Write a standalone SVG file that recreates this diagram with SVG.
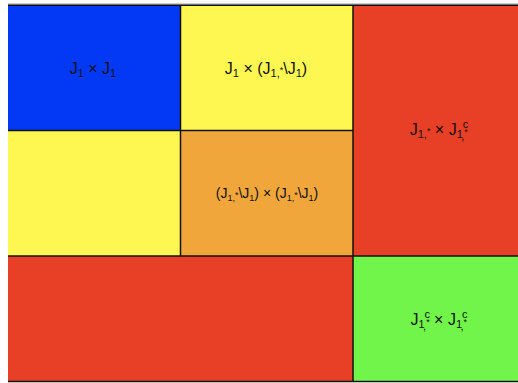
<svg xmlns="http://www.w3.org/2000/svg" width="518" height="383" viewBox="0 0 518 383">
<style>
.c{stroke:none}
.ln{stroke:#111;stroke-width:1.5;fill:none}
.t{font-family:"Liberation Sans",Arial,sans-serif;font-size:16px;fill:#111;text-anchor:middle}
.s{font-size:14px}
.sub{font-size:11px}
.st{font-size:9px}
.sst{font-size:9px}
</style>
<rect x="0" y="0" width="518" height="383" fill="#ffffff"/>
<g id="blue">
<rect class="c" x="8" y="5" width="172.5" height="125.5" fill="#0339F5"/>
<text class="t" x="93" y="74">J<tspan class="sub" dy="3">1</tspan><tspan dy="-3"> × J</tspan><tspan class="sub" dy="3">1</tspan></text>
</g>
<g id="yellow-top">
<rect class="c" x="180.5" y="5" width="172.5" height="125.5" fill="#FEF751"/>
<text class="t" x="266" y="74">J<tspan class="sub" dy="3">1</tspan><tspan dy="-3"> × (J</tspan><tspan class="sub" dy="3">1,</tspan><tspan class="st" dy="-4">*</tspan><tspan dy="1">\J</tspan><tspan class="sub" dy="3">1</tspan><tspan dy="-3">)</tspan></text>
</g>
<g id="yellow-left">
<rect class="c" x="8" y="130.5" width="172.5" height="125.5" fill="#FEF751"/>
</g>
<g id="orange">
<rect class="c" x="180.5" y="130.5" width="172.5" height="125.5" fill="#F0A63A"/>
<text class="t s" x="267" y="198">(J<tspan class="sst" dy="3">1,</tspan><tspan class="sst" dy="-3">*</tspan><tspan>\J</tspan><tspan class="sst" dy="3">1</tspan><tspan dy="-3">) × (J</tspan><tspan class="sst" dy="3">1,</tspan><tspan class="sst" dy="-3">*</tspan><tspan>\J</tspan><tspan class="sst" dy="3">1</tspan><tspan dy="-3">)</tspan></text>
</g>
<g id="red-right">
<rect class="c" x="353" y="5" width="170" height="251" fill="#E84026"/>
<text class="t" x="439" y="135">J<tspan class="sub" dy="3">1,</tspan><tspan class="st" dy="-4">*</tspan><tspan dy="1"> × J</tspan><tspan class="sub" dy="3">1</tspan><tspan class="sub" dy="-10">c</tspan><tspan class="sub" dx="-7" dy="12">,</tspan><tspan class="st" dy="-5">*</tspan></text>
</g>
<g id="red-bottom">
<rect class="c" x="8" y="256" width="345" height="125.5" fill="#E84026"/>
</g>
<g id="green">
<rect class="c" x="353" y="256" width="170" height="125.5" fill="#72F54A"/>
<text class="t" x="439" y="325">J<tspan class="sub" dy="3">1</tspan><tspan class="sub" dy="-10">c</tspan><tspan class="sub" dx="-7" dy="12">,</tspan><tspan class="st" dy="-5">*</tspan><tspan dy="0"> × J</tspan><tspan class="sub" dy="3">1</tspan><tspan class="sub" dy="-10">c</tspan><tspan class="sub" dx="-7" dy="12">,</tspan><tspan class="st" dy="-5">*</tspan></text>
</g>
<g id="connectors">
<line x1="8" y1="4" x2="518" y2="4" stroke="#9a9a9a" stroke-width="1"/>
<path class="ln" d="M8 5.25H518 M180.5 5V256 M353 5V381.5 M8 130.5H353 M8 256H518 M8 381.5H518"/>
</g>
</svg>
